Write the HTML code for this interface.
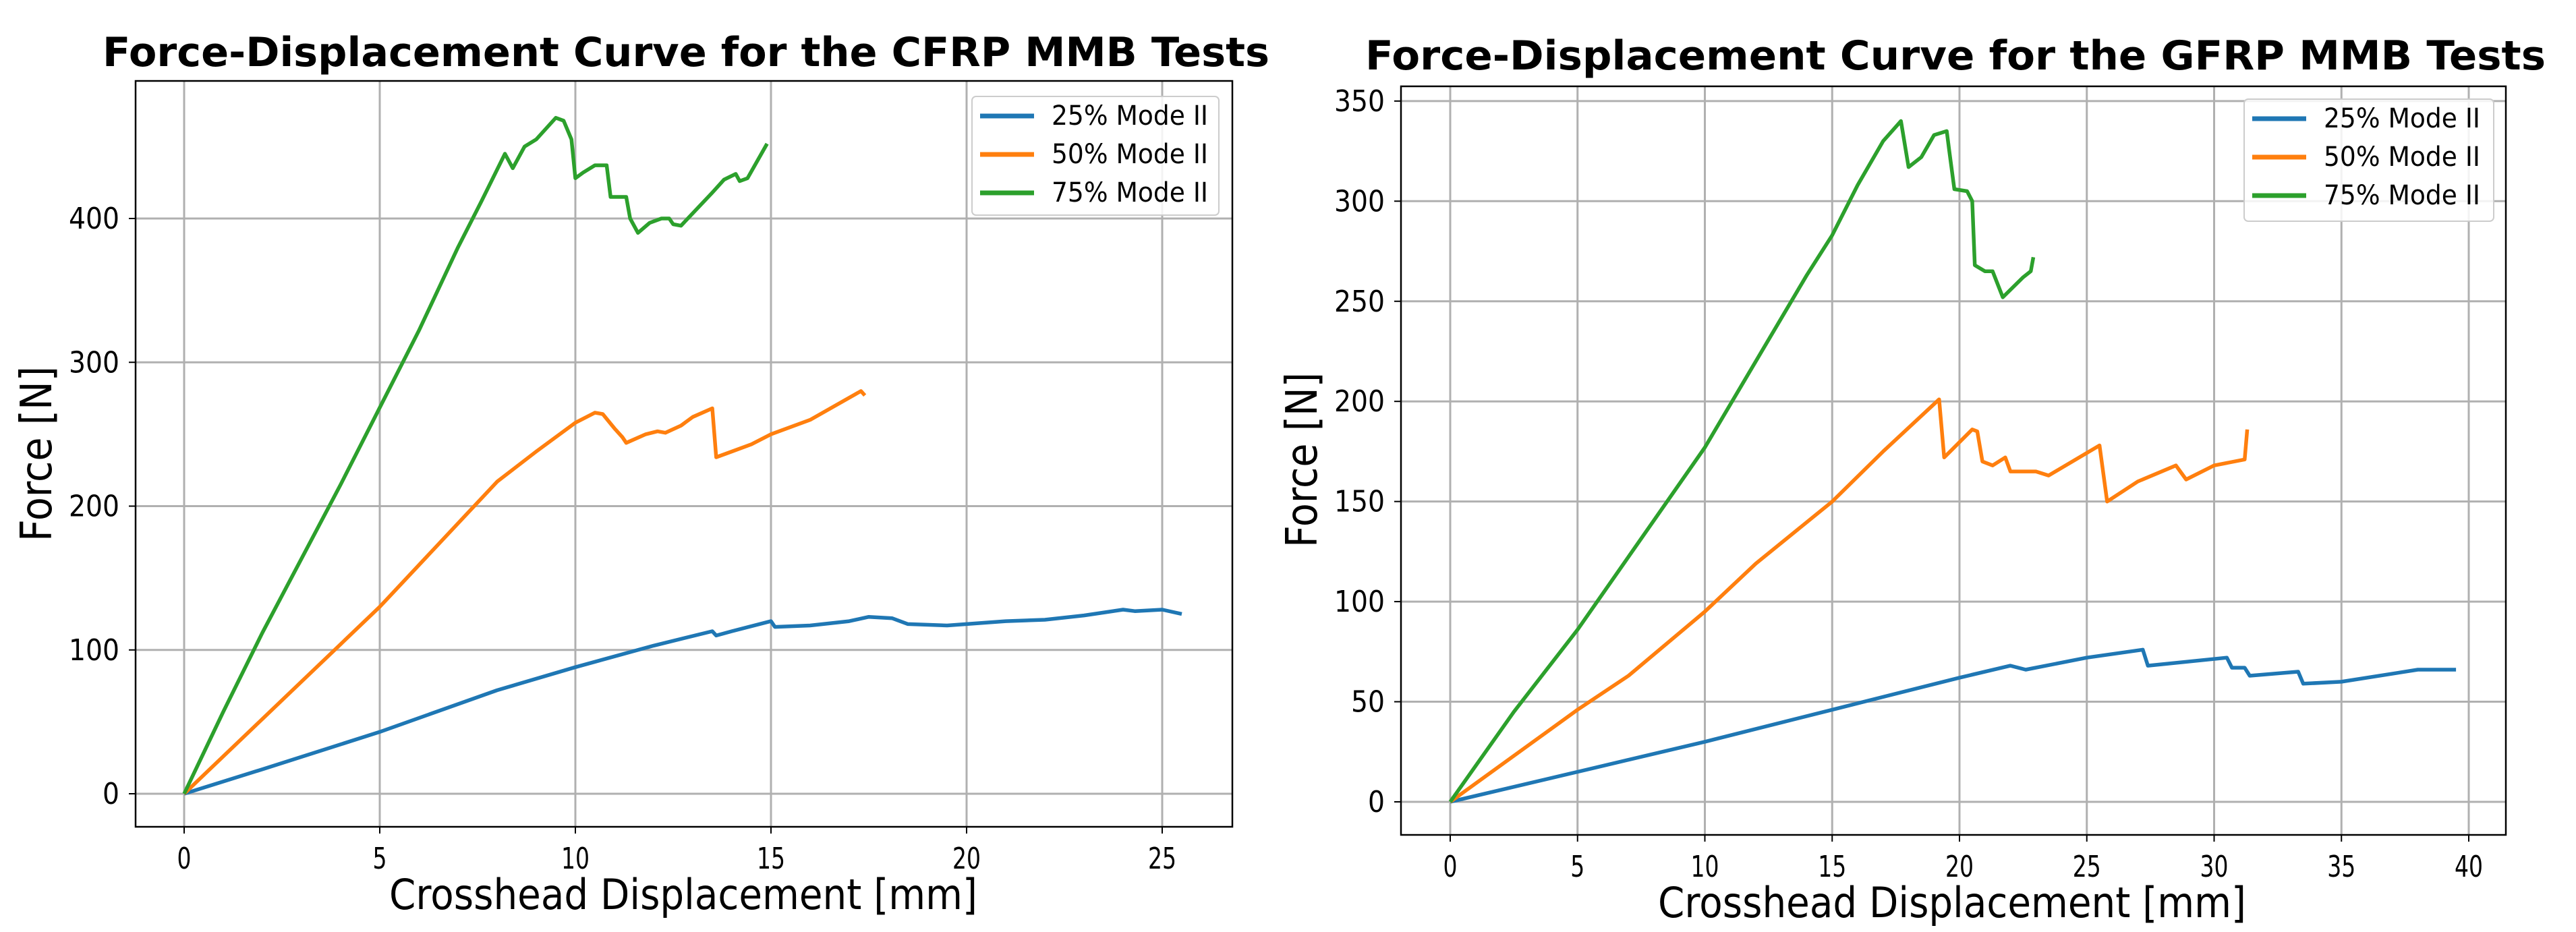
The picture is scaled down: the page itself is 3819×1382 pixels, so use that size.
<!DOCTYPE html>
<html><head><meta charset="utf-8"><style>
html,body{margin:0;padding:0;background:#fff;width:3819px;height:1382px;overflow:hidden}
svg{display:block;font-family:"DejaVu Sans","Liberation Sans",sans-serif}
</style></head><body>
<svg id="s" width="3819" height="1382" viewBox="0 0 3819 1382"></svg>
<script>
// ---- CFRP data ----
const cfrpGreenX=[0,1,2,4,6,7,7.6,8.2,8.4,8.7,9,9.5,9.7,9.9,10,10.2,10.5,10.8,10.9,11.3,11.4,11.6,11.9,12.2,12.4,12.5,12.7,13.5,13.8,14.1,14.2,14.4,14.9];
const cfrpGreenY=[0,57,112,215,322,380,412,445,435,450,455,470,468,455,428,432,437,437,415,415,400,390,397,400,400,396,395,418,427,431,426,428,452];
const cfrpOrangeX=[0,2,5,8,9,10,10.5,10.7,11,11.2,11.3,11.8,12.1,12.3,12.7,13,13.5,13.6,14,14.5,15,16,17.3,17.4];
const cfrpOrangeY=[0,52,130,217,238,258,265,264,254,248,244,250,252,251,256,262,268,234,238,243,250,260,280,277];
const cfrpBlueX=[0,2,5,8,10,12,13.5,13.6,14,15,15.1,16,17,17.5,18.1,18.5,19.5,20,21,22,23,24,24.3,25,25.5];
const cfrpBlueY=[0,17,43,72,88,103,113,110,113,120,116,117,120,123,122,118,117,118,120,121,124,128,127,128,125];
const cfrpXTicks=[0,5,10,15,20,25];
const cfrpYTicks=[0,100,200,300,400];
// ---- GFRP data ----
const gfrpGreenX=[0,2.5,5,10,14,15,16,17,17.7,18,18.5,19,19.5,19.6,19.8,20.3,20.5,20.6,21,21.3,21.7,22.5,22.8,22.9];
const gfrpGreenY=[0,45,86,177,263,283,308,330,340,317,322,333,335,325,306,305,300,268,265,265,252,262,265,272];
const gfrpOrangeX=[0,5,7,10,12,15,17,19.2,19.4,20.5,20.7,20.9,21.3,21.8,22,22.5,23,23.5,25.5,25.8,27,28.5,28.9,30,31.2,31.3];
const gfrpOrangeY=[0,46,63,95,119,150,175,201,172,186,185,170,168,172,165,165,165,163,178,150,160,168,161,168,171,186];
const gfrpBlueX=[0,5,10,15,20,22,22.6,25,27.2,27.4,30.5,30.7,31.2,31.4,33.3,33.5,35,38,39.5];
const gfrpBlueY=[0,15,30,46,62,68,66,72,76,68,72,67,67,63,65,59,60,66,66];
const gfrpXTicks=[0,5,10,15,20,25,30,35,40];
const gfrpYTicks=[0,50,100,150,200,250,300,350];
const seriesNames=["25% Mode II","50% Mode II","75% Mode II"];

const NS="http://www.w3.org/2000/svg";
const svg=document.getElementById('s');
function mk(tag,attrs,parent){const e=document.createElementNS(NS,tag);for(const k in attrs)e.setAttribute(k,attrs[k]);(parent||svg).appendChild(e);return e;}
const colors=["#1f77b4","#ff7f0e","#2ca02c"];

function chart(cfg){
  const g=mk('g',{});
  
  
  const sx=v=>cfg.x0+(v-cfg.xmin)*cfg.xs, sy=v=>cfg.y0-v*cfg.ys;
  cfg.xt.forEach(t=>{const l=mk('line',{x1:sx(t),x2:sx(t),y1:cfg.top,y2:cfg.bottom,stroke:'#b0b0b0','stroke-width':3},g);
    
    const tk=mk('line',{x1:sx(t),x2:sx(t),y1:cfg.bottom,y2:cfg.bottom+10,stroke:'#000','stroke-width':2},g);
    
    const tx=mk('text',{x:sx(t),y:cfg.bottom+62,'text-anchor':'middle','font-size':44,fill:'#000',textLength:String(t).length*21,lengthAdjust:'spacingAndGlyphs'},g);
    tx.textContent=t;});
  cfg.yt.forEach(t=>{const l=mk('line',{x1:cfg.left,x2:cfg.right,y1:sy(t),y2:sy(t),stroke:'#b0b0b0','stroke-width':3},g);
    
    const tk=mk('line',{x1:cfg.left-10,x2:cfg.left,y1:sy(t),y2:sy(t),stroke:'#000','stroke-width':2},g);
    
    const tx=mk('text',{x:cfg.left-24,y:sy(t)+15,'text-anchor':'end','font-size':44,fill:'#000',textLength:String(t).length*25,lengthAdjust:'spacingAndGlyphs'},g);
    tx.textContent=t;});
  cfg.series.forEach((s,i)=>{
    const d=s[0].map((x,j)=>(j?'L':'M')+sx(x).toFixed(1)+','+sy(s[1][j]).toFixed(1)).join('');
    const p=mk('path',{d:d,fill:'none',stroke:colors[i],'stroke-width':5.5,'stroke-linejoin':'round'},g);
    
    
  });
  const fr=mk('rect',{x:cfg.left,y:cfg.top,width:cfg.right-cfg.left,height:cfg.bottom-cfg.top,fill:'none',stroke:'#000','stroke-width':2.5},g);
  
  const L=cfg.leg;
  const lb=mk('rect',{x:L.x,y:L.y,width:L.w,height:L.h,rx:6,fill:'#fff','fill-opacity':0.85,stroke:'#ccc','stroke-width':2},g);
  
  seriesNames.forEach((n,i)=>{const yy=L.y+29+i*57;
    const ln=mk('line',{x1:L.x+12,x2:L.x+92,y1:yy,y2:yy,stroke:colors[i],'stroke-width':7},g);
    
    const t=mk('text',{x:L.x+118,y:yy+13,'font-size':40,fill:'#000',textLength:232,lengthAdjust:'spacingAndGlyphs'},g);
    t.textContent=n;});
  const ti=mk('text',{x:cfg.tx,y:cfg.ty,'text-anchor':'middle','font-size':60,'font-weight':'bold',fill:'#000',textLength:cfg.tw,lengthAdjust:'spacingAndGlyphs'},g);
  ti.textContent=cfg.title;
  const xl=mk('text',{x:cfg.xlx,y:cfg.xly,'text-anchor':'middle','font-size':62,fill:'#000',textLength:872,lengthAdjust:'spacingAndGlyphs'},g);
  xl.textContent='Crosshead Displacement [mm]';
  const yl=mk('text',{x:0,y:0,'text-anchor':'middle','font-size':64,fill:'#000',textLength:260,lengthAdjust:'spacingAndGlyphs',transform:`translate(${cfg.ylx},${cfg.yly}) rotate(-90)`},g);
  yl.textContent='Force [N]';
}
chart({name:'cfrp-chart',title:'Force-Displacement Curve for the CFRP MMB Tests',x0:273,xmin:0,xs:58,y0:1177,ys:2.1325,
  left:201,right:1827,top:120,bottom:1226,xt:cfrpXTicks,yt:cfrpYTicks,
  series:[[cfrpBlueX,cfrpBlueY],[cfrpOrangeX,cfrpOrangeY],[cfrpGreenX,cfrpGreenY]],
  leg:{x:1441,y:143,w:366,h:176},tx:1017,ty:98,tw:1730,xlx:1013,xly:1348,ylx:76,yly:673});
chart({name:'gfrp-chart',title:'Force-Displacement Curve for the GFRP MMB Tests',x0:2150,xmin:0,xs:37.75,y0:1189,ys:2.969,
  left:2077,right:3715,top:128,bottom:1238,xt:gfrpXTicks,yt:gfrpYTicks,
  series:[[gfrpBlueX,gfrpBlueY],[gfrpOrangeX,gfrpOrangeY],[gfrpGreenX,gfrpGreenY]],
  leg:{x:3327,y:147,w:370,h:181},tx:2899,ty:103,tw:1750,xlx:2894,xly:1360,ylx:1952,yly:682});
</script>
</body></html>
